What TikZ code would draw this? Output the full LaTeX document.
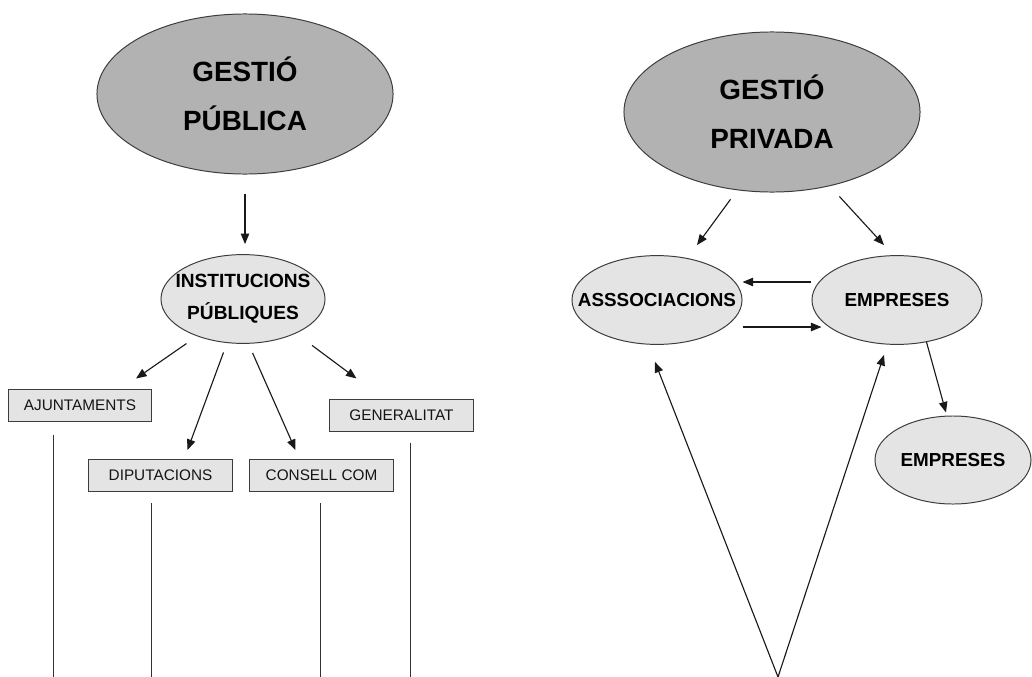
\documentclass[tikz,border=0pt]{standalone}
\usepackage{fontspec}
\setmainfont{Liberation Sans}
\usetikzlibrary{shapes.geometric,arrows.meta}
\definecolor{darkfill}{RGB}{178,178,178}
\definecolor{lightfill}{RGB}{228,228,228}
\definecolor{edgegray}{RGB}{60,60,60}
\newcommand{\nowidth}[1]{\makebox[0pt]{#1}}
\tikzset{
  bigoval/.style={ellipse,draw=edgegray,line width=0.7pt,fill=darkfill,inner sep=0pt,
    minimum width=7.4cm,minimum height=4cm,align=center,
    font=\bfseries\fontsize{19.8}{35}\selectfont},
  oval/.style={ellipse,draw=edgegray,line width=0.7pt,fill=lightfill,inner sep=0pt,
    minimum width=4.25cm,minimum height=2.22cm,align=center,
    font=\bfseries\fontsize{13.4}{22.8}\selectfont},
  box/.style={rectangle,draw=edgegray,line width=0.7pt,fill=lightfill,inner sep=0pt,
    minimum width=3.575cm,minimum height=0.8cm,text=black!92,
    font=\fontsize{10.9}{13}\selectfont},
  arr/.style={-{Triangle[length=7.5pt,width=6pt]},line width=0.8pt,black!90},
  hang/.style={line width=0.7pt,black!80},
}
\begin{document}
\begin{tikzpicture}[x=0.025cm,y=-0.025cm]
        \useasboundingbox (0,0) rectangle (1032,677);
        %% public side
        \node[bigoval] (gpub) at (245,94) {\nowidth{GESTIÓ}\\\nowidth{PÚBLICA}};
        \node[oval,minimum width=4.1cm,font=\bfseries\fontsize{13.6}{22.8}\selectfont] (inst) at (243,299) {\nowidth{INSTITUCIONS}\\\nowidth{PÚBLIQUES}};
        \node[box] (ajunt) at (80,405) {AJUNTAMENTS};
        \node[box] (gen) at (401.5,415) {GENERALITAT};
        \node[box] (dip) at (160.5,475.5) {DIPUTACIONS};
        \node[box] (cons) at (321.5,475.5) {CONSELL COM};
        \draw[arr,shorten <=0.48cm,shorten >=0.25cm] (gpub.south) -- (gpub.south |- inst.north);
        \draw[arr,shorten <=0.32cm] (inst.219) -- ([shift={(-16,-10)}]ajunt.north east);
        \draw[arr,shorten <=0.25cm] (inst.250) -- ([shift={(27,-9)}]dip.north);
        \draw[arr,shorten <=0.25cm] (inst.277) -- ([shift={(-26,-9)}]cons.north);
        \draw[arr,shorten <=0.5cm] (inst.327) -- ([shift={(27,-20)}]gen.north west);
        %% lines hanging down
        \coordinate (floor) at (0,677);
        \foreach \n/\dx/\gap in {ajunt/46/13, dip/63/11, cons/71/11, gen/81/11}{
          \coordinate (hangtop) at ([shift={(\dx,\gap)}]\n.south west);
          \draw[hang] (hangtop) -- (hangtop |- floor);
        }
        %% private side
        \node[bigoval] (gpriv) at (772,112) {\nowidth{GESTIÓ}\\\nowidth{PRIVADA}};
        \node[oval] (assoc) at (657,300) {\nowidth{ASSSOCIACIONS}};
        \node[oval] (emp) at (897,300) {\nowidth{EMPRESES}};
        \node[oval,minimum width=3.9cm,minimum height=2.2cm] (emp2) at (953,460) {\nowidth{EMPRESES}};
        \draw[arr,shorten <=0.28cm] (gpriv.246) -- ([shift={(40,-10)}]assoc.north);
        \draw[arr,shorten <=0.35cm] (gpriv.308) -- ([shift={(-13,-10)}]emp.north);
        \draw[arr] ([shift={(0,-18)}]emp.west) -- ([shift={(0,-18)}]assoc.east);
        \draw[arr] ([shift={(0,27)}]assoc.east) -- ([shift={(10,27)}]emp.west);
        \draw[arr] (emp.305) -- ([shift={(-7,-3)}]emp2.north);
        %% the V from below
        \coordinate (vtip) at (778,677);
        \draw[arr] (vtip) -- ([shift={(-2,17)}]assoc.south);
        \draw[arr] (vtip) -- ([shift={(-13,10)}]emp.south);
    \end{tikzpicture}
\end{document}
